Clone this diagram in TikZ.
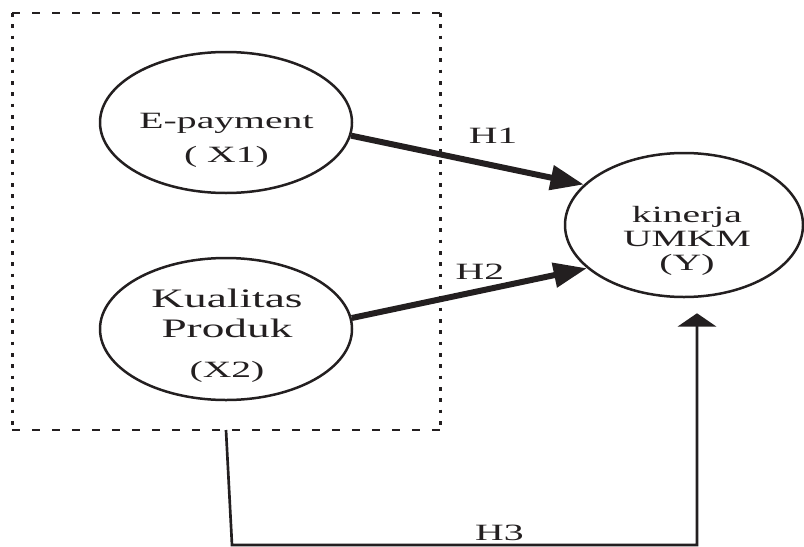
\documentclass[tikz,border=0pt]{standalone}
\usepackage{fontspec}
\setmainfont{Liberation Serif}
\usetikzlibrary{arrows.meta,shapes.geometric}
\definecolor{ink}{HTML}{231F20}

\begin{document}
\begin{tikzpicture}[x=0.3pt,y=-0.3pt,
		var/.style={draw=ink,line width=0.75pt,ellipse,inner sep=0pt,minimum width=75.6pt,minimum height=42.3pt},
		txt/.style={text=ink,align=center,inner sep=0pt,xscale=1.7},
		lbl/.style={text=ink,inner sep=0pt,xscale=1.7,font=\fontsize{7}{8}\selectfont},
		edgeh/.style={draw=ink,line width=0.7pt,dash pattern=on 2.4pt off 3.6pt},
		edgev/.style={draw=ink,line width=0.9pt,dash pattern=on 1.1pt off 2.3pt},
		hyp/.style={draw=ink,line width=1.8pt,-{Triangle[length=10pt,width=7.2pt]}},
		link/.style={draw=ink,line width=0.8pt}]
				\useasboundingbox (0,0) rectangle (804,546);
				\node[inner sep=0pt,outer sep=0pt,minimum width=128.4pt,minimum height=125.1pt] (grp) at (226,221.5) {};
				\draw[edgeh] (grp.north west) -- (grp.north east);
				\draw[edgeh] (grp.south west) -- (grp.south east);
				\draw[edgev] (grp.north west) -- (grp.south west);
				\draw[edgev] (grp.north east) -- (grp.south east);
				\node[var] (x1) at (226,122.5) {};
				\node[var,minimum height=42.6pt] (x2) at (226,329) {};
				\node[var,minimum width=71.4pt,minimum height=43.2pt] (y) at (684,225) {};
				\node[txt,font=\fontsize{7}{10.2}\selectfont] (x1t) at (226.5,140) {E-payment\\( X1)};
				\node[txt,font=\fontsize{8}{9}\selectfont] (x2t) at (227,335.5) {Kualitas\\Produk\hspace*{3.55pt}\\[3pt]{\fontsize{7}{9}\selectfont(X2)}};
				\node[txt,font=\fontsize{7}{7.2}\selectfont] (yt) at (687,240.5) {kinerja\\UMKM\\(Y)};
				\coordinate (h3a) at (232,545);
				\coordinate (h3b) at (697,545);
				\draw[hyp] (x1.-6) to node[lbl,pos=.61,above=5.6pt] (h1) {H1} (y.158);
				\draw[hyp] (x2.5) to node[lbl,pos=.545,above=2.5pt] (h2) {H2} (y.204);
				\draw[link,-{Triangle[length=4pt,width=11.5pt]},shorten >=4.5pt] (grp.south) -- (h3a) -- node[lbl,pos=.575,above=0.9pt] (h3) {H3} (h3b) -- (h3b |- y.south);
			\end{tikzpicture}
\end{document}
